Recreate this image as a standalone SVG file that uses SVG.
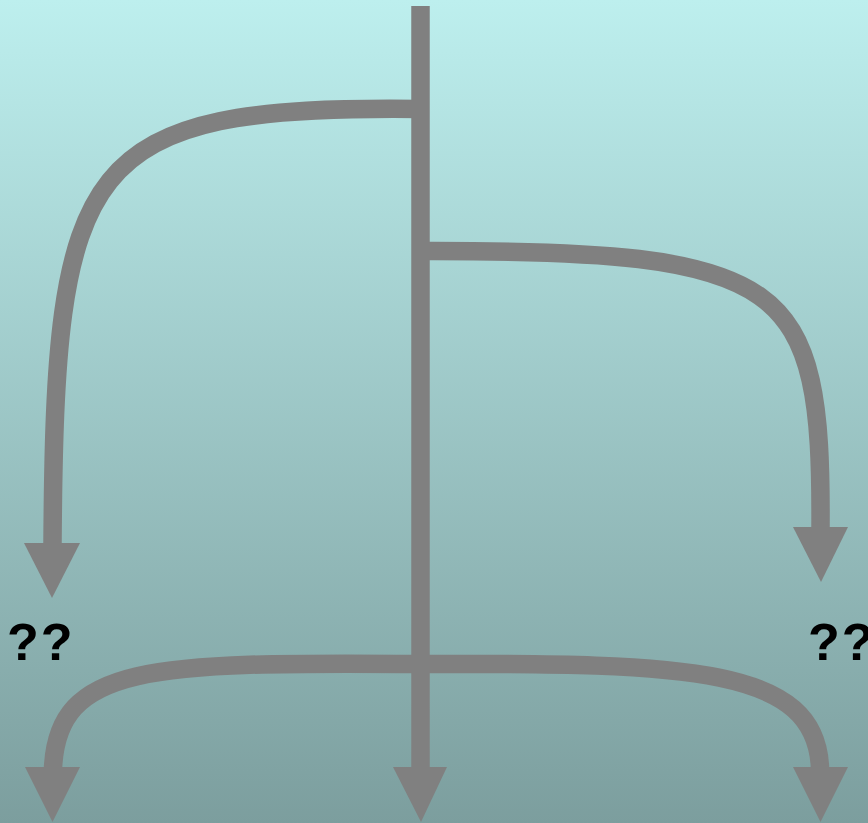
<svg xmlns="http://www.w3.org/2000/svg" width="868" height="823" viewBox="0 0 868 823">
<defs>
<linearGradient id="bg" x1="0" y1="0" x2="0" y2="1">
<stop offset="0" stop-color="#BDEFEE"/>
<stop offset="1" stop-color="#7C9E9E"/>
</linearGradient>
<style>
.edge{fill:none;stroke:#808080;stroke-width:18.5;stroke-linecap:butt}
.head{fill:#808080;stroke:none}
.lbl{font-family:"Liberation Sans",Arial,sans-serif;font-weight:bold;font-size:52px;letter-spacing:2px;fill:#000}
</style>
</defs>
<rect x="0" y="0" width="868" height="823" fill="url(#bg)"/>
<g id="connectors">
<path class="edge" d="M420.5,6 L420.5,768"/>
<path class="edge" d="M420,109 C80,105 55,160 52.5,544"/>
<path class="edge" d="M420,251 C790,250 822,280 820.5,528"/>
<path class="edge" d="M421,664 C150,662 58,664 53,768"/>
<path class="edge" d="M420,664 C690,663 816,667 820,768"/>
<polygon class="head" points="24,543 80,543 52,598"/>
<polygon class="head" points="793,527 848,527 821,582"/>
<polygon class="head" points="25,767 80,767 52.5,822"/>
<polygon class="head" points="393,767 447,767 421,822"/>
<polygon class="head" points="793,767 848,767 820.5,822"/>
</g>
<g id="label-left"><text class="lbl" x="7" y="660">??</text></g>
<g id="label-right"><text class="lbl" x="808" y="660">??</text></g>
</svg>
